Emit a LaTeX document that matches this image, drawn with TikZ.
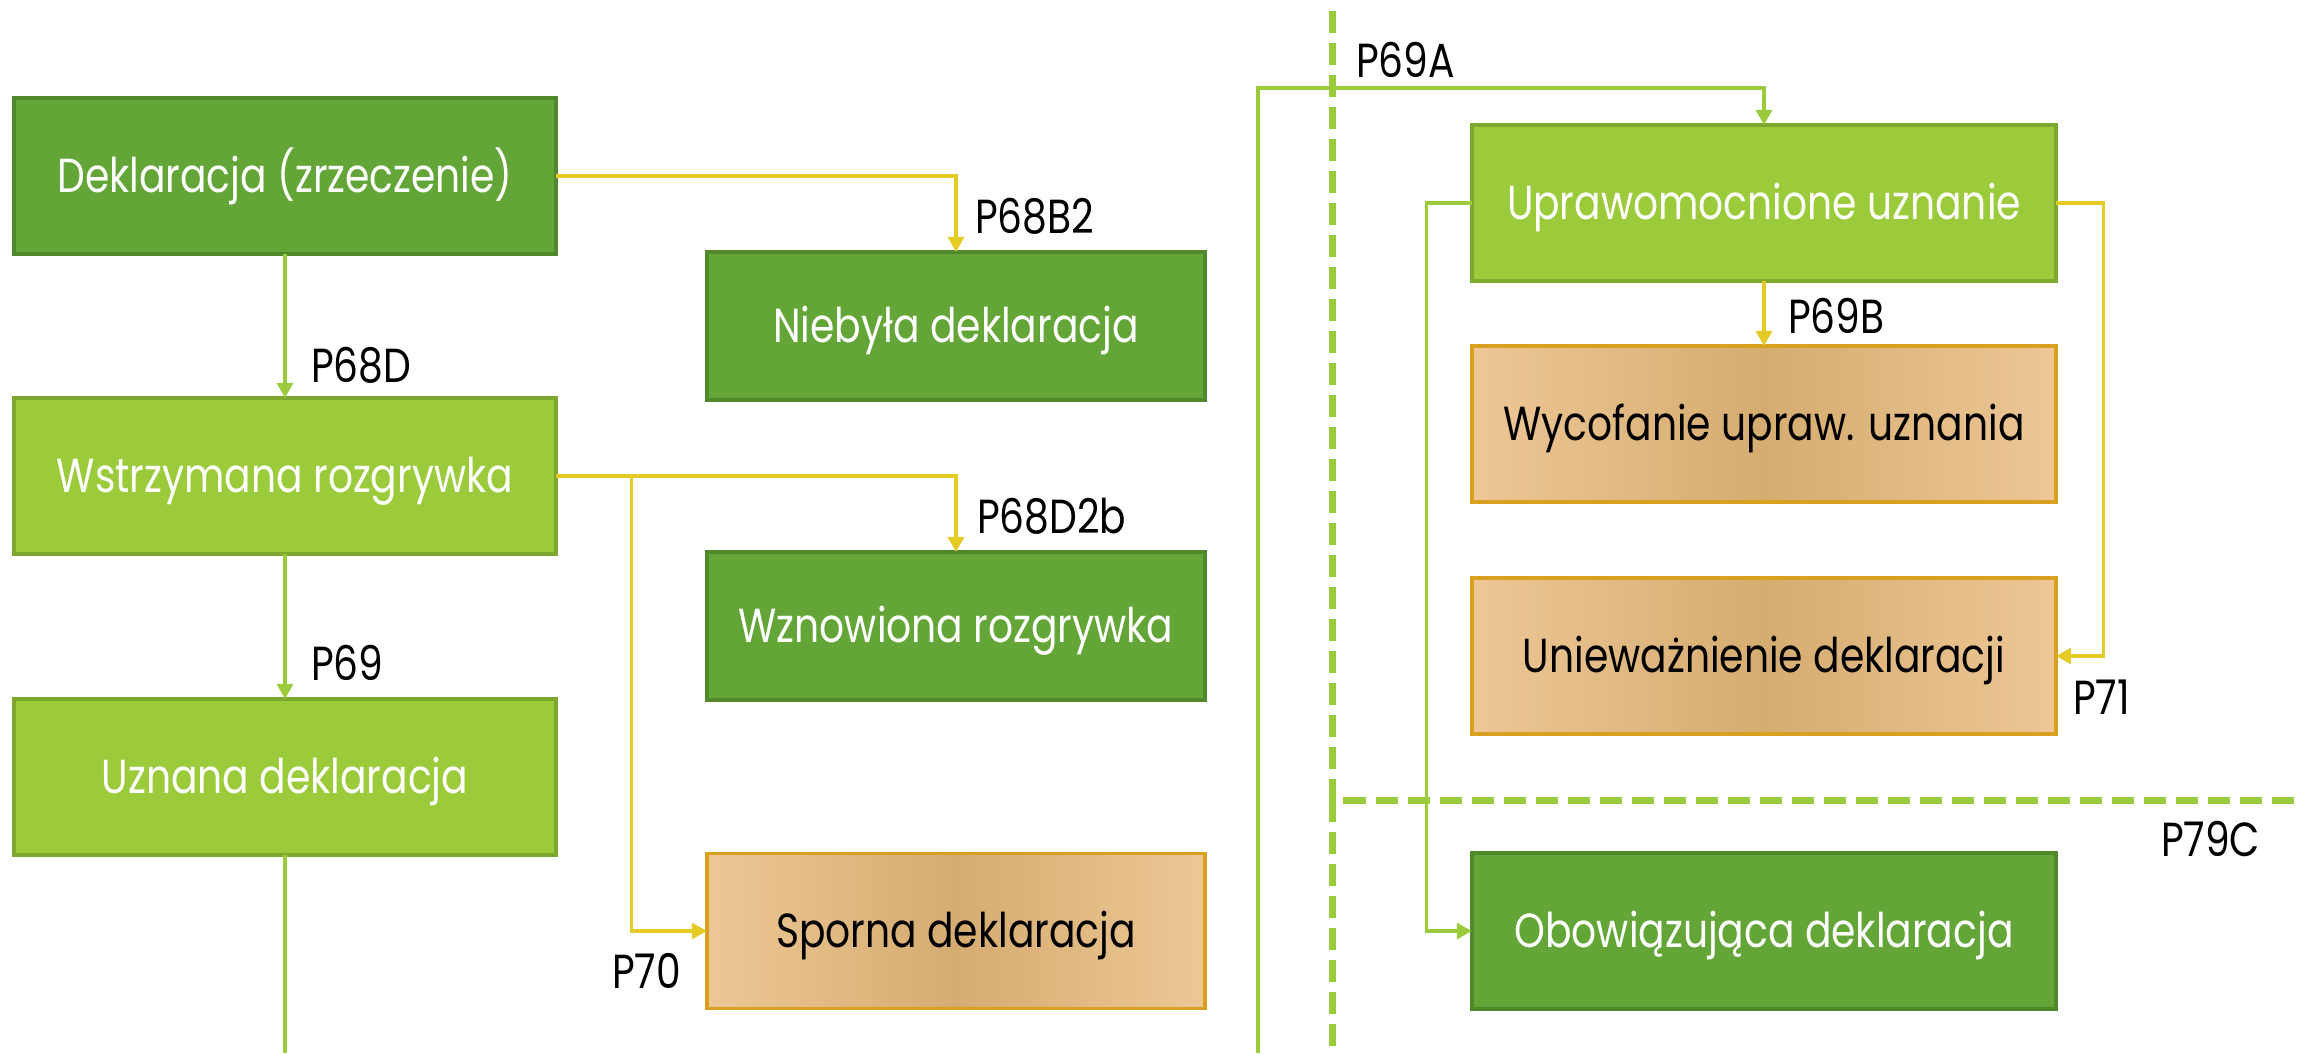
\documentclass[tikz,border=0pt]{standalone}
\usepackage{fontspec}
\setmainfont{Poppins}[FakeStretch=0.82]
\usetikzlibrary{math,arrows.meta}

\definecolor{leafgreen}{RGB}{99,165,55}
\definecolor{leafedge}{RGB}{80,136,44}
\definecolor{limegreen}{RGB}{155,203,58}
\definecolor{limeedge}{RGB}{125,168,46}
\definecolor{sandlight}{RGB}{237,199,150}
\definecolor{sanddark}{RGB}{213,172,112}
\definecolor{sandedge}{RGB}{216,160,30}
\definecolor{flowyellow}{RGB}{229,203,36}
\definecolor{flowgreen}{RGB}{155,203,58}

\begin{document}
\begin{tikzpicture}[x=0.01cm, y=-0.01cm,
        every node/.style={font=\fontsize{13.6pt}{15pt}\selectfont, inner sep=0pt, outer sep=0pt, text height=0.33cm, text depth=0pt},
        darkbox/.style={draw=leafedge, line width=1pt, fill=leafgreen, text=white},
        limebox/.style={draw=limeedge, line width=1pt, fill=limegreen, text=white},
        sandbox/.style={draw=sandedge, line width=1pt, left color=sandlight, right color=sandlight, middle color=sanddark, text=black},
        colL/.style={minimum width=5.42cm, minimum height=1.56cm},
        colM/.style={minimum width=4.98cm, minimum height=1.48cm},
        colR/.style={minimum width=5.84cm, minimum height=1.56cm},
        yflow/.style={draw=flowyellow, line width=0.9pt, -{Triangle[width=0.16cm, length=0.15cm]}},
        gflow/.style={draw=flowgreen, line width=0.9pt, -{Triangle[width=0.16cm, length=0.15cm]}},
        gline/.style={draw=flowgreen, line width=0.9pt},
        pnum/.style={anchor=west},
        boundary/.style={draw=flowgreen, line width=2pt, dash pattern=on 0.22cm off 0.1cm}]
            \tikzmath{\lx = 285; \mx = 956; \rx = 1764;}
            \useasboundingbox (0,0) rectangle (2300,1053);

            \node[darkbox, colL] (dekl) at (\lx, 176) {Deklaracja (zrzeczenie)};
            \node[limebox, colL] (wstrz) at (\lx, 476) {Wstrzymana rozgrywka};
            \node[limebox, colL] (uzn) at (\lx, 777) {Uznana deklaracja};
            \coordinate (uznEnd) at (\lx, 1053);

            \node[darkbox, colM] (nieb) at (\mx, 326) {Niebyła deklaracja};
            \node[darkbox, colM] (wzn) at (\mx, 626) {Wznowiona rozgrywka};
            \node[sandbox, colM, minimum height=1.55cm] (sporna) at (\mx, 931) {Sporna deklaracja};

            \node[limebox, colR] (upr) at (\rx, 203) {Uprawomocnione uznanie};
            \node[sandbox, colR] (wyc) at (\rx, 424) {Wycofanie upraw. uznania};
            \node[sandbox, colR] (uniew) at (\rx, 656) {Unieważnienie deklaracji};
            \node[darkbox, colR] (obow) at (\rx, 931) {Obowiązująca deklaracja};

            \coordinate (sepTop) at (1332, 11);
            \coordinate (sepCorner) at (1332, 800);
            \coordinate (sepRight) at (2300, 800);
            \coordinate (sepBottom) at (1332, 1053);
            \coordinate (p69aStart) at (1258, 1053);
            \coordinate (p69aBend) at (1258, 88);

            \draw[yflow] (dekl.east) -| (nieb.north);
            \draw[gflow] (dekl) -- (wstrz);
            \draw[yflow] (wstrz.east) -| (wzn.north);
            \draw[yflow] (wstrz.east) -- ++(75,0) |- (sporna.west);
            \draw[gflow] (wstrz) -- (uzn);
            \draw[gline] (uzn) -- (uznEnd);

            \draw[gflow] (p69aStart) -- (p69aBend) -| (upr.north);
            \draw[yflow] (upr) -- (wyc);
            \draw[yflow] (upr.east) -- ++(47,0) |- (uniew.east);
            \draw[gflow] (upr.west) -- ++(-45,0) |- (obow.west);

            \draw[boundary] (sepTop) -- (sepCorner) -- (sepRight);
            \draw[boundary] (sepCorner) -- (sepBottom);

            \node[pnum] (lblB2) at (975, 217) {P68B2};
            \node[pnum] (lblD) at (311, 366) {P68D};
            \node[pnum] (lblD2b) at (977, 517) {P68D2b};
            \node[pnum] (lbl69) at (311, 664) {P69};
            \node[pnum] (lbl70) at (612, 972) {P70};
            \node[pnum] (lbl69A) at (1356, 61) {P69A};
            \node[pnum] (lbl69B) at (1788, 317) {P69B};
            \node[pnum] (lbl71) at (2073, 698) {P71};
            \node[pnum] (lbl79C) at (2161, 840) {P79C};
        \end{tikzpicture}
\end{document}
